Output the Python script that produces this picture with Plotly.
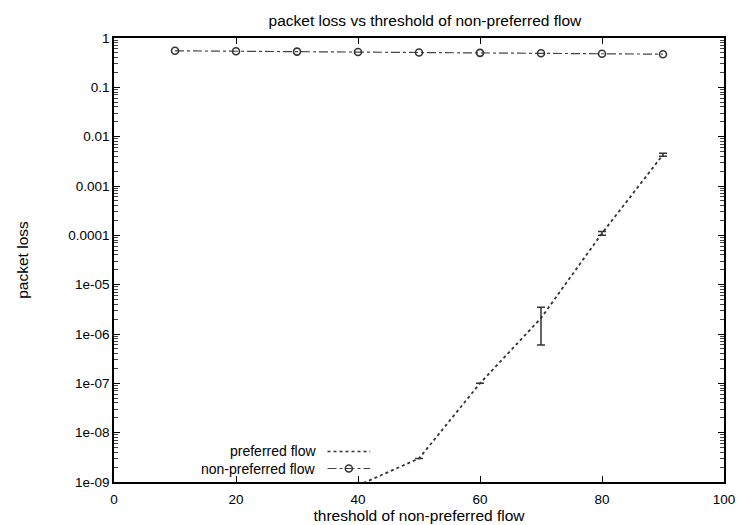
import plotly.graph_objects as go

# data
thresholds = [10, 20, 30, 40, 50, 60, 70, 80, 90]
nonpref_loss = [0.55, 0.54, 0.53, 0.52, 0.51, 0.50, 0.49, 0.48, 0.47]

pref_x = [40, 50, 60, 70, 80, 90]
pref_loss = [8.5e-10, 3e-9, 1e-7, 2.1e-6, 1.1e-4, 4.3e-3]
pref_err_plus = [0, 0, 0, 1.4e-6, 0.1e-4, 0.3e-3]
pref_err_minus = [0, 0, 0, 1.5e-6, 0.1e-4, 0.3e-3]

ytick_vals = [1, 0.1, 0.01, 0.001, 0.0001, 1e-5, 1e-6, 1e-7, 1e-8, 1e-9]
ytick_text = ["1", "0.1", "0.01", "0.001", "0.0001", "1e-05", "1e-06", "1e-07", "1e-08", "1e-09"]
xtick_vals = [0, 20, 40, 60, 80, 100]

font = "Liberation Sans, Arial, sans-serif"
TXT = 15.5
LEG = 14

fig = go.Figure()
fig.add_trace(go.Scatter(
    x=pref_x, y=pref_loss, mode="lines", name="preferred flow",
    line=dict(color="#333333", width=1.8, dash="dot"),
    error_y=dict(type="data", symmetric=False, array=pref_err_plus,
                 arrayminus=pref_err_minus, color="#333333", thickness=1.5, width=4),
    showlegend=False, cliponaxis=True,
))
fig.add_trace(go.Scatter(
    x=thresholds, y=nonpref_loss, mode="lines+markers", name="non-preferred flow",
    line=dict(color="#444444", width=1.2, dash="dashdot"),
    marker=dict(symbol="circle-open", size=7, color="#333333", line=dict(width=1.6)),
    showlegend=False,
))

# manual gnuplot-style legend
row1, row2 = 0.0687, 0.0304
fig.add_annotation(xref="paper", yref="paper", x=0.332, y=row1, xanchor="right",
                   yanchor="middle", text="preferred flow", showarrow=False, borderpad=0,
                   font=dict(family=font, size=LEG, color="black"))
fig.add_annotation(xref="paper", yref="paper", x=0.332, y=row2, xanchor="right",
                   yanchor="middle", text="non-preferred flow", showarrow=False, borderpad=0,
                   font=dict(family=font, size=LEG, color="black"))
fig.add_shape(type="line", xref="paper", yref="paper", x0=0.350, x1=0.420, y0=row1, y1=row1,
              line=dict(color="#333333", width=1.5, dash="dot"))
fig.add_shape(type="line", xref="paper", yref="paper", x0=0.350, x1=0.420, y0=row2, y1=row2,
              line=dict(color="#444444", width=1.2, dash="dashdot"))
fig.add_trace(go.Scatter(x=[0.385], y=[row2], xaxis="x2", yaxis="y2", mode="markers",
                         marker=dict(symbol="circle-open", size=7, color="#333333", line=dict(width=1.6)),
                         showlegend=False, hoverinfo="skip"))

axis_common = dict(showline=True, linecolor="black", linewidth=1.5, mirror="ticks",
                   ticks="inside", tickcolor="black", showgrid=False, zeroline=False,
                   automargin=False,
                   tickfont=dict(family=font, size=13.5, color="black"))

fig.update_layout(
    width=739, height=525,
    margin=dict(l=114, r=15, t=38, b=43),
    paper_bgcolor="white", plot_bgcolor="white",
    font=dict(family=font, size=13, color="black"),
    title=dict(text="packet loss vs threshold of non-preferred flow", x=0.575, xanchor="center",
               y=1 - 21 / 525, yanchor="middle", font=dict(family=font, size=TXT, color="black")),
    xaxis=dict(range=[0, 100], tickvals=xtick_vals, ticklen=6, ticklabelstandoff=4,
               title=dict(text="threshold of non-preferred flow", standoff=2,
                          font=dict(family=font, size=TXT, color="black")),
               **axis_common),
    yaxis=dict(type="log", range=[-9, 0], tickvals=ytick_vals, ticktext=ytick_text, ticklen=6,
               minor=dict(ticks="inside", ticklen=4, tickcolor="#444444", dtick="D1", showgrid=False),
               title=dict(text="packet loss", standoff=36,
                          font=dict(family=font, size=TXT, color="black")),
               **axis_common),
    xaxis2=dict(overlaying="x", range=[0, 1], visible=False),
    yaxis2=dict(overlaying="y", range=[0, 1], visible=False),
)

fig.write_html("out.html")
